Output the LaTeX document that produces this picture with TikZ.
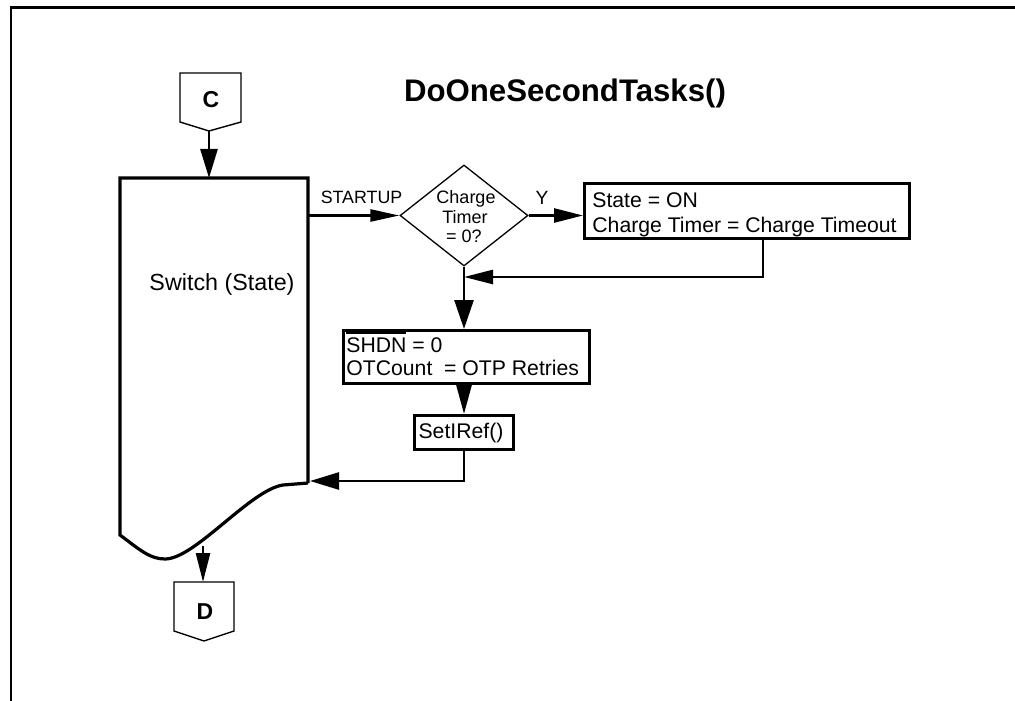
\documentclass[tikz,border=0pt]{standalone}
\usepackage{fontspec}
\setmainfont{Liberation Sans}
\usetikzlibrary{arrows.meta,shapes.geometric}
\newcommand{\barover}[1]{\setbox0\hbox{#1}\rlap{\rule[9.2pt]{\wd0}{0.7pt}}\box0\relax}
\begin{document}
\begin{tikzpicture}[x=0.5pt,y=-0.5pt,
  conn/.style={line width=1.3pt,-{Triangle[length=14.5pt,width=#1]}},
  conn/.default=7.5pt,
  procbox/.style={draw,line width=1.3pt,rectangle,inner sep=0pt,anchor=north west},
  offpage/.style={draw,line width=0.7pt,line join=miter},
  txt/.style={inner sep=0pt,font=\fontsize{10.6}{12.5}\selectfont},
  smalltxt/.style={inner sep=0pt,font=\fontsize{9}{10}\selectfont},
  bigtxt/.style={inner sep=0pt,font=\fontsize{11.65}{13}\selectfont},
  lettertxt/.style={inner sep=0pt,font=\bfseries\fontsize{11.5}{13}\selectfont},
  titletxt/.style={inner sep=0pt,font=\bfseries\fontsize{15.6}{18}\selectfont}]
\useasboundingbox (0,0) rectangle (1015,700);

% frame
\begin{scope}
\clip (0,0) rectangle (1015,700);
\draw[line width=1.2pt,line join=miter] (11,720) -- (11,7.5) -- (1030,7.5);
\end{scope}

% title
\node[titletxt,anchor=base] (title) at (565,102) {DoOneSecondTasks()};

% off-page connector C
\draw[offpage] (180,73) -- (241,73) -- (241,122) -- (209,131) -- (180,122) -- cycle;
\coordinate (Ctip) at (209,131);
\node[lettertxt,anchor=base] (Clabel) at (211,108) {C};

% switch block
\draw[line width=1.6pt,line join=miter] (308,483) -- (308,178) -- (120,178) -- (120,535)
  .. controls (140,550) and (150,559) .. (165,559)
  .. controls (195,559) and (250,490) .. (283,485) -- (308,483);
\coordinate (swtop) at (209,178);
\coordinate (swout) at (308,215.5);
\coordinate (swin) at (310,481);
\coordinate (swbot) at (203,546);
\node[bigtxt,anchor=base] (switch) at (222,290) {Switch (State)};

% decision
\node[draw,diamond,line width=0.65pt,minimum width=64pt,minimum height=50.5pt,inner sep=0pt] (dia) at (464,215.5) {};
\node[smalltxt,anchor=base] (dia1) at (466,204) {Charge};
\node[smalltxt,anchor=base] (dia2) at (465,223) {Timer};
\node[smalltxt,anchor=base] (dia3) at (464,242) {= 0?};
\node[inner sep=0pt,font=\fontsize{8.9}{10}\selectfont,anchor=base] (startup) at (361.5,204) {STARTUP};
\node[inner sep=0pt,font=\fontsize{9.6}{11}\selectfont,anchor=base] (ylab) at (542,205) {Y};

% process boxes
\node[procbox,minimum width=162.5pt,minimum height=27.5pt] (box1) at (583,182) {};
\node[txt,anchor=base west] (box1a) at (592,207) {State = ON};
\node[txt,anchor=base west] (box1b) at (592,232) {Charge Timer = Charge Timeout};
\coordinate (b1out) at (763,237);
\coordinate (merge) at (464,277);

\node[procbox,minimum width=123pt,minimum height=26.5pt] (shdn) at (342,329) {};
\node[txt,anchor=base west] (shdna) at (346,352) {\barover{SHDN} = 0};
\node[txt,anchor=base west] (shdnb) at (346,375) {OTCount\ \ = OTP Retries};

\node[procbox,minimum width=49.5pt,minimum height=17pt] (setiref) at (413,414) {};
\node[txt,anchor=base] (setireftxt) at (461,438) {SetIRef()};

% off-page connector D
\draw[offpage] (174,582) -- (234,582) -- (234,631) -- (204,641) -- (174,631) -- cycle;
\coordinate (Dtop) at (203,582);
\node[lettertxt,anchor=base] (Dlabel) at (205,619) {D};

% connectors
\draw[conn=8.5pt] (Ctip) -- (swtop);
\draw[conn=6pt] (swout) -- (dia.west);
\draw[conn=7pt] (dia.east) -- (dia.east -| box1.west);
\draw[conn=7pt] (b1out) |- (merge);
\draw[conn=9.5pt] (dia.south) -- (dia.south |- shdn.north);
\draw[conn=7.5pt] (dia.south |- shdn.south) -- (dia.south |- setiref.north);
\draw[conn=8.5pt] (setiref.south) |- (swin);
\draw[conn=7pt] (swbot) -- (Dtop);
\end{tikzpicture}
\end{document}
